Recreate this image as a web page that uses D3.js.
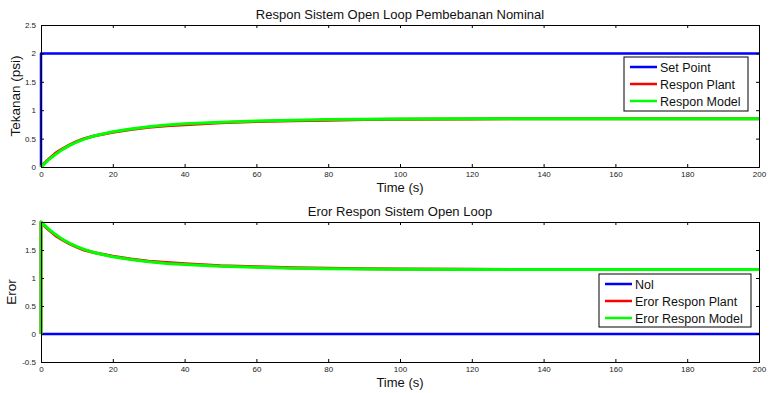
<!DOCTYPE html>
<html><head><meta charset="utf-8">
<script src="https://cdn.jsdelivr.net/npm/d3@7"></script>
<style>body{margin:0;background:#fff}svg{display:block;font-family:"Liberation Sans",Arial,sans-serif}</style>
</head><body><svg id="c" width="769" height="393"></svg>
<script>
const spT = [0, 0, 200];
const spV = [0, 2, 2];
const t = [0,1,2,4,6,8,10,12,15,20,25,30,35,40,50,60,70,80,90,100,120,140,160,180,200];
const plant = [0,0.07,0.13,0.24,0.32,0.39,0.45,0.50,0.55,0.61,0.66,0.70,0.725,0.745,0.78,0.80,0.815,0.825,0.835,0.84,0.845,0.85,0.85,0.85,0.85];
const model = [0,0.06,0.12,0.22,0.31,0.38,0.44,0.49,0.55,0.62,0.67,0.71,0.74,0.76,0.79,0.81,0.825,0.835,0.84,0.845,0.85,0.85,0.85,0.85,0.85];
const nolT = [0, 200];
const nolV = [0, 0];
const eT = [0,0,1,2,4,6,8,10,12,15,20,25,30,35,40,50,60,70,80,90,100,120,140,160,180,200];
const errPlant = [0,2,1.93,1.87,1.76,1.68,1.61,1.55,1.50,1.45,1.39,1.34,1.30,1.275,1.255,1.22,1.20,1.185,1.175,1.165,1.16,1.155,1.15,1.15,1.15,1.15];
const errModel = [0,2,1.94,1.88,1.78,1.69,1.62,1.56,1.51,1.45,1.38,1.33,1.29,1.26,1.24,1.21,1.19,1.175,1.165,1.16,1.155,1.15,1.15,1.15,1.15,1.15];
const xTicks = [0,20,40,60,80,100,120,140,160,180,200];
const yTicksTop = [0,0.5,1,1.5,2,2.5];
const yTicksBot = [-0.5,0,0.5,1,1.5,2];

const svg = d3.select("#c");
function panel(cfg){
  const x = d3.scaleLinear().domain([0,200]).range([41,759]);
  const y = d3.scaleLinear().domain(cfg.yd).range([cfg.bottom, cfg.top]);
  const g = svg.append("g");
  const line = d3.line().x(d=>x(d[0])).y(d=>y(d[1]));
  const clip = "clip"+cfg.id;
  g.append("clipPath").attr("id",clip).append("rect").attr("x",39).attr("y",cfg.top-2).attr("width",722).attr("height",cfg.bottom-cfg.top+4);
  const pg = g.append("g").attr("clip-path",`url(#${clip})`);
  cfg.series.forEach(s=>{
    pg.append("path").datum(s.t.map((v,i)=>[v,s.v[i]])).attr("d",line)
      .attr("fill","none").attr("stroke",s.c).attr("stroke-width",s.w).attr("stroke-linejoin","round");
  });
  // axes
  g.append("g").attr("transform",`translate(0,${cfg.bottom})`)
    .call(d3.axisBottom(x).tickValues(xTicks).tickSize(-3).tickPadding(4).tickFormat(d3.format("d")));
  g.append("g").attr("transform",`translate(0,${cfg.top})`)
    .call(d3.axisTop(x).tickValues(xTicks).tickSize(-3).tickFormat(""));
  g.append("g").attr("transform",`translate(41,0)`)
    .call(d3.axisLeft(y).tickValues(cfg.yt).tickSize(-3).tickPadding(5).tickFormat(d=>String(d)));
  g.append("g").attr("transform",`translate(759,0)`)
    .call(d3.axisRight(y).tickValues(cfg.yt).tickSize(-3).tickFormat(""));
  g.selectAll(".domain").attr("stroke","#000").attr("stroke-width",1);
  g.selectAll(".tick line").attr("stroke","#000");
  g.selectAll(".tick text").attr("font-size",8).attr("fill","#222").attr("font-family","Liberation Sans, Arial, sans-serif");
  // titles
  g.append("text").attr("x",400).attr("y",cfg.top-6).attr("text-anchor","middle").attr("font-size",13).attr("fill","#111").text(cfg.title);
  g.append("text").attr("x",400).attr("y",cfg.bottom+25).attr("text-anchor","middle").attr("font-size",13).attr("fill","#111").text("Time (s)");
  g.append("text").attr("transform",`translate(${cfg.ylx},${(cfg.top+cfg.bottom)/2}) rotate(-90)`).attr("text-anchor","middle").attr("font-size",13.5).attr("fill","#111").text(cfg.ylabel);
  // legend
  const L = cfg.legend;
  const lg = g.append("g");
  lg.append("rect").attr("x",L.x).attr("y",L.y).attr("width",L.w).attr("height",L.h).attr("fill","#fff").attr("stroke","#000").attr("stroke-width",1);
  cfg.series.forEach((s,i)=>{
    const yy = L.y + 10 + i*17;
    lg.append("line").attr("x1",L.x+6).attr("x2",L.x+33).attr("y1",yy).attr("y2",yy).attr("stroke",s.c).attr("stroke-width",2.5);
    lg.append("text").attr("x",L.x+36).attr("y",yy+4.5).attr("font-size",12.5).attr("fill","#111").text(s.name);
  });
}
panel({id:1, top:25, bottom:167, yd:[0,2.5], yt:yTicksTop, title:"Respon Sistem Open Loop Pembebanan Nominal", ylabel:"Tekanan (psi)", ylx:20,
  legend:{x:624,y:57,w:124,h:54},
  series:[{name:"Set Point",t:spT,v:spV,c:"#0000ff",w:2.5},{name:"Respon Plant",t:t,v:plant,c:"#ff0000",w:3},{name:"Respon Model",t:t,v:model,c:"#00ff00",w:3}]});
panel({id:2, top:222, bottom:362, yd:[-0.5,2], yt:yTicksBot, title:"Eror Respon Sistem Open Loop", ylabel:"Eror", ylx:16,
  legend:{x:599,y:274,w:152,h:53},
  series:[{name:"Nol",t:nolT,v:nolV,c:"#0000ff",w:2.5},{name:"Eror Respon Plant",t:eT,v:errPlant,c:"#ff0000",w:3},{name:"Eror Respon Model",t:eT,v:errModel,c:"#00ff00",w:3}]});
</script></body></html>
